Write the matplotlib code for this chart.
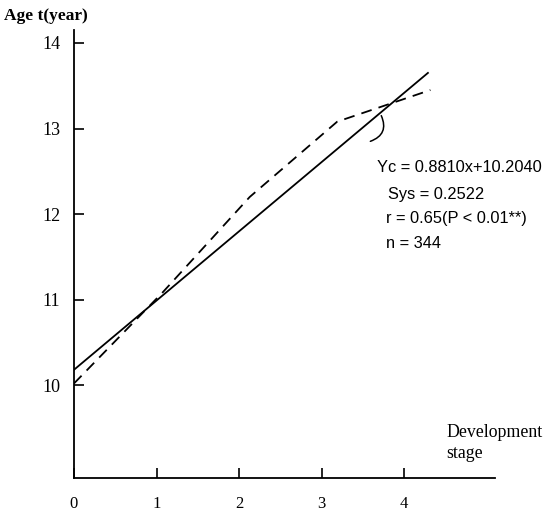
import matplotlib
matplotlib.use("Agg")
import matplotlib.pyplot as plt

# Data
solid_x = [0.0, 4.29]
solid_y = [10.18, 13.65]
dashed_x = [0.0, 1.08, 2.13, 3.19, 4.32]
dashed_y = [10.02, 11.09, 12.20, 13.08, 13.45]
x_ticks = [0, 1, 2, 3, 4]
y_ticks = [10, 11, 12, 13, 14]
stats_lines = ["Yc = 0.8810x+10.2040", "Sys = 0.2522", "r = 0.65(P < 0.01**)", "n = 344"]

W, H = 552, 515
fig = plt.figure(figsize=(W / 100, H / 100), dpi=100)
ax = fig.add_axes([74 / W, 1 - 478 / H, (495 - 74) / W, (478 - 30) / H])
ax.set_xlim(0, (495 - 74) / 82.5)
ax.set_ylim(10 - (478 - 385) / 85.7, 14 + (43 - 30) / 85.7)

for s in ("top", "right"):
    ax.spines[s].set_visible(False)
for s in ("left", "bottom"):
    ax.spines[s].set_linewidth(1.3)

ax.plot(solid_x, solid_y, color="black", lw=1.3)
ax.plot(dashed_x, dashed_y, color="black", lw=1.3, dashes=(6, 4))

serif = "Liberation Serif"
ax.set_xticks(x_ticks)
ax.set_yticks(y_ticks)
ax.set_xticklabels([str(v) for v in x_ticks], family=serif, fontsize=12)
ax.set_yticklabels([str(v) for v in y_ticks], family=serif, fontsize=13)
ax.tick_params(axis="x", direction="in", length=7, width=1.2, pad=13)
ax.tick_params(axis="y", direction="in", length=7, width=1.2, pad=10)

# hook pointing from text to the regression line
ax.annotate("", xy=(3.71, 13.18), xytext=(3.56, 12.84),
            arrowprops=dict(arrowstyle="-", color="black", lw=1.1,
                            connectionstyle="arc3,rad=0.6"))

ys = [168, 194, 219, 243]
xs = [377, 388, 386, 386]
for t, xp, yp in zip(stats_lines, xs, ys):
    fig.text(xp / W, 1 - yp / H, t, family="Liberation Sans", fontsize=11.8,
             ha="left", va="center")

fig.text(4 / W, 1 - 16 / H, "Age t(year)", family=serif, fontsize=12.5,
         fontweight="bold", ha="left", va="center")
fig.text(446 / W, 1 - 443 / H, "Development\nstage", family=serif, fontsize=12.8,
         ha="left", va="center", linespacing=1.25)

fig.savefig("out.png", dpi=100)
